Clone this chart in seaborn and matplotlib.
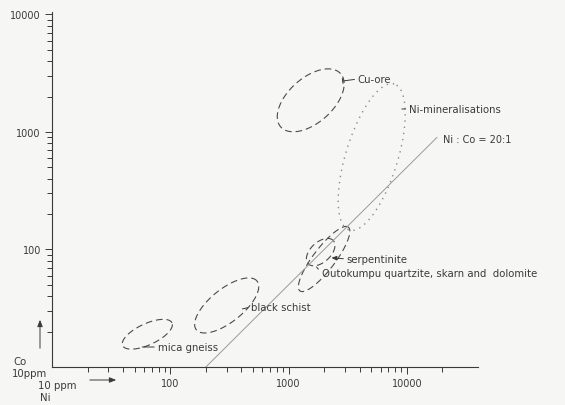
import numpy as np
import pandas as pd
import matplotlib
matplotlib.use("Agg")
import matplotlib.pyplot as plt
import matplotlib.ticker as mticker
import seaborn as sns

# rock / ore fields: centre (Ni ppm, Co ppm), semi-axes in log decades, tilt in degrees
field_names = ["mica gneiss", "black schist", "Outokumpu", "serpentinite", "Cu-ore", "Ni-mineralisations"]
field_ni = [64, 300, 2000, 1870, 1540, 5050]
field_co = [19, 33.4, 83, 95, 1860, 612]
field_major = [0.23, 0.33, 0.34, 0.145, 0.34, 0.65]
field_minor = [0.09, 0.14, 0.093, 0.085, 0.19, 0.22]
field_tilt = [25, 39, 53, 43, 42, 73]
field_dotted = [False, False, False, False, False, True]

# Ni:Co = 20:1 reference line
ratio_ni = [200, 18000]
ratio_co = [10, 900]

# labels: text anchor (Ni, Co) and leader start (Ni, Co)
label_text = ["Cu-ore", "Ni-mineralisations", "serpentinite",
              "Outokumpu quartzite, skarn and  dolomite", "black schist", "mica gneiss"]
label_ni = [3850, 10400, 3100, 1905, 485, 78]
label_co = [2825, 1570, 83, 63, 32.5, 14.8]
leader_ni = [2870, 9080, 2310, 1725, 407, 58]
leader_co = [2716, 1570, 85, 71, 31.2, 14.8]

x_major = [100, 1000, 10000]
x_minor = [20, 30, 40, 50, 60, 70, 80, 90, 200, 300, 400, 500, 600, 700, 800, 900,
           2000, 3000, 4000, 5000, 6000, 7000, 8000, 9000, 20000]
y_major = [100, 1000, 10000]
y_minor = [20, 30, 40, 50, 60, 70, 80, 90, 200, 300, 400, 500, 600, 700, 800, 900,
           2000, 3000, 4000, 5000, 6000, 7000, 8000, 9000]

INK = "#3a3a3a"
BG = "#f6f6f4"

sns.set_style("ticks")
plt.rcParams["font.family"] = ["DejaVu Sans"]
plt.rcParams["font.size"] = 7

fig = plt.figure(figsize=(5.65, 4.06), dpi=100, facecolor=BG)
ax = fig.add_axes([52 / 565, 1 - 368 / 406, 426 / 565, 355 / 406])
ax.set_facecolor(BG)
ax.set_xscale("log")
ax.set_yscale("log")


def outline(i):
    t = np.linspace(0, 2 * np.pi, 240)
    th = np.radians(field_tilt[i])
    a, b = field_major[i], field_minor[i]
    lx = np.log10(field_ni[i]) + a * np.cos(th) * np.cos(t) - b * np.sin(th) * np.sin(t)
    ly = np.log10(field_co[i]) + a * np.sin(th) * np.cos(t) + b * np.cos(th) * np.sin(t)
    return pd.DataFrame({"Ni": 10 ** lx, "Co": 10 ** ly})


for i, name in enumerate(field_names):
    df = outline(i)
    if field_dotted[i]:
        sns.lineplot(data=df, x="Ni", y="Co", sort=False, estimator=None, ax=ax,
                     color="#8a8a8a", lw=1.0, linestyle=(0, (1, 3.5)))
    else:
        sns.lineplot(data=df, x="Ni", y="Co", sort=False, estimator=None, ax=ax,
                     color="#4a4a4a", lw=0.8, linestyle=(0, (6, 3.5)))

sns.lineplot(x=ratio_ni, y=ratio_co, ax=ax, color="#9a9a9a", lw=0.7)
ax.text(20200, 871, "Ni : Co = 20:1", color=INK, ha="left", va="center", fontsize=7)

for i, txt in enumerate(label_text):
    style = "-"
    if txt == "serpentinite":
        style = "-|>,head_length=0.4,head_width=0.18"
    elif txt == "Cu-ore":
        style = "-[,widthB=0.25,lengthB=0.0"
    ax.annotate(txt, xy=(leader_ni[i], leader_co[i]), xytext=(label_ni[i], label_co[i]),
                ha="left", va="center", color=INK, fontsize=7.3,
                arrowprops=dict(arrowstyle=style, lw=0.7, color=INK, fc=INK,
                                shrinkA=0, shrinkB=0, relpos=(0, 0.5)))

ax.set_xlim(10, 40000)
ax.set_ylim(10, 10500)
ax.xaxis.set_major_locator(mticker.FixedLocator(x_major))
ax.xaxis.set_minor_locator(mticker.FixedLocator(x_minor))
ax.yaxis.set_major_locator(mticker.FixedLocator(y_major))
ax.yaxis.set_minor_locator(mticker.FixedLocator(y_minor))
ax.xaxis.set_major_formatter(mticker.FixedFormatter([str(v) for v in x_major]))
ax.yaxis.set_major_formatter(mticker.FixedFormatter([str(v) for v in y_major]))
ax.xaxis.set_minor_formatter(mticker.NullFormatter())
ax.yaxis.set_minor_formatter(mticker.NullFormatter())
ax.tick_params(which="major", length=5, width=0.7, color=INK, labelcolor=INK,
               labelsize=7, pad=3)
ax.tick_params(which="minor", length=3.5, width=0.7, color=INK)
ax.set_xlabel("")
ax.set_ylabel("")
sns.despine(ax=ax)
for s in ["left", "bottom"]:
    ax.spines[s].set_color(INK)
    ax.spines[s].set_linewidth(0.8)


def fx(px):
    return px / 565


def fy(py):
    return 1 - py / 406


fig.text(fx(13), fy(362), "Co", color=INK, fontsize=7.3, ha="left", va="center")
fig.text(fx(12), fy(374), "10ppm", color=INK, fontsize=7.3, ha="left", va="center")
fig.text(fx(38), fy(386), "10 ppm", color=INK, fontsize=7.3, ha="left", va="center")
fig.text(fx(40), fy(398), "Ni", color=INK, fontsize=7.3, ha="left", va="center")
fig.add_artist(matplotlib.patches.FancyArrowPatch(
    (fx(40), fy(352)), (fx(40), fy(318)), transform=fig.transFigure,
    arrowstyle="-|>,head_length=4,head_width=1.6", lw=0.7, color=INK))
fig.add_artist(matplotlib.patches.FancyArrowPatch(
    (fx(87), fy(381)), (fx(119), fy(381)), transform=fig.transFigure,
    arrowstyle="-|>,head_length=4,head_width=1.6", lw=0.7, color=INK))

fig.savefig("out.png", dpi=100, facecolor=BG)
